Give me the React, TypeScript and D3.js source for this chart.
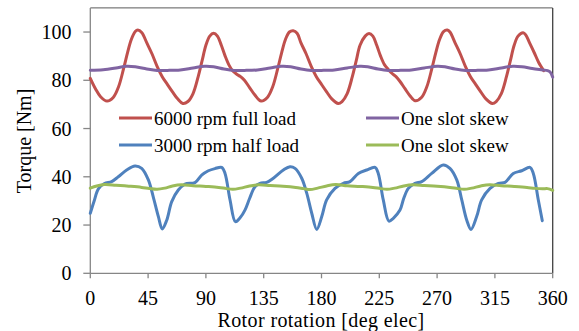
import React from "react";
import * as d3 from "d3";

const xTicks = [0, 45, 90, 135, 180, 225, 270, 315, 360];
const yTicks = [0, 20, 40, 60, 80, 100];

const redDeg = [0,4,8,13,18,22,26,29,32,35,37,40,44,48,52,56,60,64,68,72,76,80,84,87,90,93,96,99,102,105,108,111,114,117,120,124,128,133,138,142,146,149,152,155,158,161,164,168,172,176,180,184,188,193,196,200,204,207,210,214,217,220,223,226,229,232,235,238,241,245,249,253,258,262,266,269,272,275,278,280,284,288,292,296,300,304,308,313,316,320,324,327,330,333,337,339,342,346,349,353];
const redVal = [80.8,76.5,73.2,71.4,73,77.3,85,91.5,97,100.2,100.8,99.8,95.5,91,85.8,81.5,78.3,75.2,72.3,70.4,71.2,74.5,81.5,88,94.5,98.3,99.5,98.3,94.5,90,86.3,83.8,82.5,81.5,80,77,74,71.4,73,77.3,85,91.5,97,100,100.5,99.5,95.5,91,85.8,81.5,78.3,75.2,72.3,70.4,71.2,74.5,81.5,88,94.5,98.3,99.4,98.3,94.5,90,86.5,84.5,82.8,81.5,79.6,76.5,73.5,71.5,73,77.3,85,91.5,97,100.2,100.8,100,95.5,91,85.8,81.5,78.3,75.2,72.3,70.4,71.2,74.5,81.5,88,94.5,98.3,99.7,98.8,95.5,91,87.5,84];

const purpleDeg = [0,10,20,28,35,44,52,60,70,80,89,96,104,112,120,130,140,149,156,164,172,180,190,200,210,216,224,232,240,250,260,270,276,284,292,300,310,320,329,336,344,352,356,358,360];
const purpleVal = [84.2,84.4,85.1,85.8,85.6,84.7,84.1,84.1,84.3,85.1,85.8,85.6,84.7,84.1,84.1,84.3,85.1,85.8,85.6,84.7,84.1,84.1,84.3,85.1,85.8,85.6,84.7,84.1,84.1,84.3,85.1,85.8,85.6,84.7,84.1,84.1,84.3,85.1,85.8,85.6,84.9,84.3,84,83.4,81.3];

const blueDeg = [0,3,6.3,11,16.6,21.8,28.3,34.8,40,45.2,49,53,56,59.5,63.4,68.5,73.7,81.5,86.7,91.9,97,102.3,104.9,108.8,113,116.6,120.4,124,128.2,132.1,137.3,142.5,150.3,155.5,159.4,164.6,168.5,172.4,176.3,180.2,184,190.5,197,202.2,208.7,215.2,221.7,224.2,228.1,232.5,235.9,241.1,244,247.6,252.8,258,265.8,274.8,280,285.3,289.2,293.1,296.4,300.8,304.7,311.2,317.7,322.9,329.3,335.9,342.3,344.9,348.8,351.9];
const blueVal = [24.9,30,35,37.2,38,40,42.8,44.5,43.5,38.7,31.7,23.5,18.4,22,29.7,34.5,37,37.6,40.7,42.5,43.4,43.9,41.4,30.4,21.4,23,26.2,31,35.9,37.3,37.7,39.4,42.8,44.2,43.5,39.4,33.2,24.9,18.2,23.5,30.4,35.2,37.3,38,41.4,42.8,43.9,41.4,30.4,21.6,22.8,26.2,31,35.2,37.3,38,41.4,44.9,43.5,38.7,30.4,22,18.2,23.5,30.4,35.2,37.3,37.7,41.4,42.5,43.9,41.4,30.4,21.8];

const greenDeg = [0,5,11,20,30,40,46,52,58,64,71,80,90,100,106,111,117,124,131,140,150,160,166,171,177,184,191,200,210,220,226,231,237,244,251,260,270,280,286,291,297,304,311,320,330,340,346,352,356,360];
const greenVal = [35.3,36.2,36.8,36.5,36.1,35.6,35.1,34.8,35.3,36.2,36.7,36.3,36,35.6,35.1,34.8,35.3,36.2,36.7,36.4,36.1,35.6,35.1,34.7,35.3,36.2,36.8,36.3,36,35.6,35.1,34.8,35.3,36.2,36.7,36.4,36.1,35.6,35.1,34.8,35.3,36.2,36.7,36.3,36,35.6,35.2,35,35.1,34.4];

const seriesNames = ["6000 rpm full load", "One slot skew", "3000 rpm half load", "One slot skew"];
const colors = ["#C0504D", "#8064A2", "#4F81BD", "#9BBB59"];

const W = 579, H = 331;
const FONT = '"Liberation Serif", "Times New Roman", "Liberation Sans", Arial, sans-serif';

export default function App() {
  const x = d3.scaleLinear().domain([0, 360]).range([90.3, 552.7]);
  const y = d3.scaleLinear().domain([0, 110]).range([273.3, 7.9]);
  const line = d3
    .line<[number, number]>()
    .x((d) => x(d[0]))
    .y((d) => y(d[1]))
    .curve(d3.curveCatmullRom.alpha(0.5));
  const zip = (a: number[], b: number[]) => a.map((v, i) => [v, b[i]] as [number, number]);
  const series = [
    zip(redDeg, redVal),
    zip(purpleDeg, purpleVal),
    zip(blueDeg, blueVal),
    zip(greenDeg, greenVal),
  ];
  const legendPos = [
    { x: 119, y: 118 },
    { x: 366, y: 118 },
    { x: 119, y: 145 },
    { x: 366, y: 145 },
  ];
  const [x0, x1] = x.range();
  const [y0, y1] = y.range();
  const ts = { fontFamily: FONT };
  return (
    <svg width={W} height={H} style={{ position: "absolute", left: 0, top: 0, background: "#fff" }}>
      <rect x={0} y={0} width={W} height={H} fill="#fff" />
      <line x1={x0} x2={x1} y1={y1} y2={y1} stroke="#595959" strokeWidth={1} />
      <line x1={x1} x2={x1} y1={y1} y2={y0} stroke="#404040" strokeWidth={1.3} />
      <line x1={x0} x2={x0} y1={y1} y2={y0} stroke="#868686" strokeWidth={1.3} />
      <line x1={x0} x2={x1} y1={y0} y2={y0} stroke="#868686" strokeWidth={1.3} />
      {yTicks.map((t) => (
        <g key={"y" + t}>
          <line x1={x0 - 7} x2={x0} y1={y(t)} y2={y(t)} stroke="#868686" strokeWidth={1.3} />
          <text x={71.5} y={y(t)} dy="0.35em" textAnchor="end" fontSize={20} fill="#000" style={ts}>
            {t}
          </text>
        </g>
      ))}
      {xTicks.map((t) => (
        <g key={"x" + t}>
          <line x1={x(t)} x2={x(t)} y1={y0} y2={y0 + 5} stroke="#868686" strokeWidth={1.3} />
          <text x={x(t)} y={304.5} textAnchor="middle" fontSize={20} fill="#000" style={ts}>
            {t}
          </text>
        </g>
      ))}
      <text x={321} y={327} textAnchor="middle" fontSize={20} fill="#000" style={ts} letterSpacing={0.4}>
        Rotor rotation [deg elec]
      </text>
      <text transform="translate(31,141) rotate(-90)" textAnchor="middle" fontSize={20} fill="#000" style={ts}>
        Torque [Nm]
      </text>
      {series.map((s, i) => (
        <path key={"s" + i} d={line(s) || ""} fill="none" stroke={colors[i]} strokeWidth={3} strokeLinejoin="round" strokeLinecap="round" />
      ))}
      {seriesNames.map((n, i) => (
        <g key={"l" + i}>
          <line x1={legendPos[i].x} x2={legendPos[i].x + 33} y1={legendPos[i].y} y2={legendPos[i].y} stroke={colors[i]} strokeWidth={3} />
          <text x={legendPos[i].x + 35} y={legendPos[i].y} dy="0.35em" fontSize={19} fill="#000" style={ts}>
            {n}
          </text>
        </g>
      ))}
    </svg>
  );
}
